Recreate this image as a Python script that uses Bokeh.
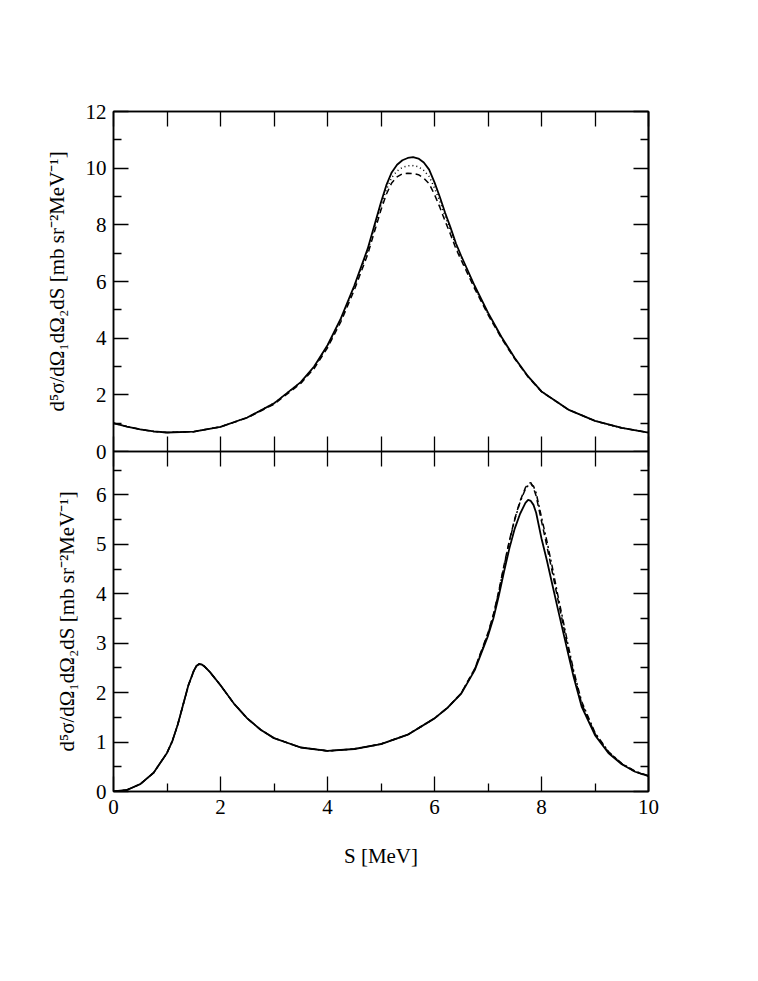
from bokeh.plotting import figure
from bokeh.models import FixedTicker, LinearAxis, Range1d
from bokeh.layouts import column
from bokeh.embed import file_html
from bokeh.resources import INLINE

# ---------------- data ----------------
x_top = [0, 0.25, 0.5, 0.75, 1, 1.5, 2, 2.5, 3, 3.5, 3.75, 4, 4.25, 4.5, 4.75,
         5.0, 5.1, 5.2, 5.3, 5.4, 5.5, 5.6, 5.7, 5.8, 5.9, 6.0, 6.1, 6.2, 6.3,
         6.4, 6.5, 6.75, 7.0, 7.25, 7.5, 7.75, 8.0, 8.5, 9.0, 9.5, 10]
top_solid = [1.00, 0.88, 0.78, 0.71, 0.67, 0.70, 0.87, 1.20, 1.70, 2.45, 3.00, 3.75, 4.70,
             5.85, 7.15, 8.80, 9.40, 9.85, 10.12, 10.28, 10.36, 10.39, 10.34, 10.20, 9.95,
             9.50, 8.98, 8.42, 7.90, 7.35, 6.90, 5.85, 4.90, 4.05, 3.30, 2.65, 2.12, 1.48,
             1.08, 0.83, 0.67]
top_dotted = [1.00, 0.88, 0.78, 0.71, 0.67, 0.70, 0.87, 1.20, 1.70, 2.44, 2.98, 3.72, 4.66,
              5.80, 7.07, 8.68, 9.24, 9.67, 9.90, 10.03, 10.08, 10.09, 10.05, 9.92, 9.71,
              9.30, 8.82, 8.29, 7.80, 7.27, 6.84, 5.81, 4.87, 4.03, 3.29, 2.64, 2.12, 1.48,
              1.08, 0.83, 0.67]
top_dashed = [1.00, 0.88, 0.78, 0.71, 0.67, 0.70, 0.87, 1.19, 1.67, 2.40, 2.93, 3.66, 4.58,
              5.70, 6.95, 8.53, 9.08, 9.48, 9.69, 9.80, 9.82, 9.81, 9.77, 9.65, 9.45,
              9.07, 8.62, 8.12, 7.66, 7.16, 6.75, 5.75, 4.83, 4.00, 3.27, 2.63, 2.11, 1.48,
              1.08, 0.83, 0.67]

x_bot = [0, 0.25, 0.5, 0.75, 1.0, 1.1, 1.2, 1.3, 1.4, 1.5, 1.55, 1.6, 1.65, 1.7, 1.8, 2.0,
         2.25, 2.5, 2.75, 3.0, 3.5, 4.0, 4.5, 5.0, 5.5, 6.0, 6.25, 6.5, 6.75, 7.0, 7.1, 7.2,
         7.3, 7.4, 7.5, 7.6, 7.7, 7.75, 7.8, 7.85, 7.9, 8.0, 8.1, 8.2, 8.3, 8.4, 8.5, 8.6,
         8.75, 9.0, 9.25, 9.5, 9.75, 10.0]
bot_solid = [0.00, 0.03, 0.15, 0.38, 0.78, 1.02, 1.35, 1.75, 2.15, 2.44, 2.54, 2.58, 2.57,
             2.53, 2.42, 2.15, 1.78, 1.48, 1.25, 1.08, 0.89, 0.82, 0.86, 0.96, 1.15, 1.48,
             1.70, 1.98, 2.45, 3.15, 3.50, 3.95, 4.45, 4.92, 5.32, 5.62, 5.84, 5.90, 5.88,
             5.80, 5.64, 5.12, 4.68, 4.20, 3.72, 3.25, 2.78, 2.32, 1.72, 1.14, 0.78, 0.55,
             0.40, 0.31]
bot_dashed = [0.00, 0.03, 0.15, 0.38, 0.78, 1.02, 1.35, 1.75, 2.15, 2.44, 2.54, 2.58, 2.57,
              2.53, 2.42, 2.15, 1.78, 1.48, 1.25, 1.08, 0.89, 0.82, 0.86, 0.96, 1.15, 1.48,
              1.70, 1.99, 2.48, 3.21, 3.58, 4.05, 4.58, 5.08, 5.52, 5.88, 6.15, 6.23, 6.25,
              6.14, 5.98, 5.47, 4.97, 4.45, 3.92, 3.40, 2.88, 2.40, 1.78, 1.17, 0.80, 0.56,
              0.40, 0.31]
bot_dashdot = [0.00, 0.03, 0.15, 0.38, 0.78, 1.02, 1.35, 1.75, 2.15, 2.44, 2.54, 2.58, 2.57,
               2.53, 2.42, 2.15, 1.78, 1.48, 1.25, 1.08, 0.89, 0.82, 0.86, 0.96, 1.15, 1.48,
               1.70, 1.99, 2.47, 3.19, 3.56, 4.03, 4.56, 5.06, 5.50, 5.86, 6.12, 6.19, 6.22,
               6.18, 6.04, 5.55, 5.07, 4.55, 4.00, 3.48, 2.95, 2.45, 1.82, 1.19, 0.81, 0.57,
               0.41, 0.32]

x_major_bottom = [0, 2, 4, 6, 8, 10]
x_minor_bottom = [1, 3, 5, 7, 9]
x_edge_ticks = [0, 1, 2, 3, 4, 5, 6, 7, 8, 9, 10]
top_y_major = [0, 2, 4, 6, 8, 10, 12]
top_y_minor = [1, 3, 5, 7, 9, 11]
bot_y_major = [0, 1, 2, 3, 4, 5, 6]
bot_y_minor = [0.5, 1.5, 2.5, 3.5, 4.5, 5.5, 6.5]

YLABEL = "d\u2075\u03c3/d\u03a9\u2081d\u03a9\u2082dS [mb sr\u207b\u00b2MeV\u207b\u00b9]"
FONT = "Liberation Serif"
TICK_FS = "21px"
LBL_FS = "21px"

FW, FH = 535, 340
LEFT = 113
RIGHT = 22
OVER = 12   # room below the top frame for its "0" tick label


def style_axis(ax):
    ax.major_tick_in = 15
    ax.major_tick_out = 0
    ax.minor_tick_in = 8
    ax.minor_tick_out = 0
    ax.major_tick_line_color = "black"
    ax.minor_tick_line_color = "black"
    ax.major_tick_line_width = 1.3
    ax.minor_tick_line_width = 1.3
    ax.axis_line_color = "black"
    ax.axis_line_width = 1.5
    ax.major_label_text_font = FONT
    ax.major_label_text_font_size = TICK_FS
    ax.major_label_text_color = "black"
    ax.axis_label_text_font = FONT
    ax.axis_label_text_font_style = "normal"
    ax.axis_label_text_font_size = LBL_FS
    ax.axis_label_text_color = "black"


def edge_axis(p, ticks, length, side):
    # tick marks only (minor ticks carry no labels)
    ax = LinearAxis(ticker=FixedTicker(ticks=[], minor_ticks=ticks))
    style_axis(ax)
    ax.minor_tick_in = length
    p.add_layout(ax, side)
    return ax


def make_fig(ymax, min_top, min_bottom):
    p = figure(frame_width=FW, frame_height=FH,
               x_range=Range1d(0, 10), y_range=Range1d(0, ymax),
               output_backend="svg", toolbar_location=None,
               x_axis_location=None, y_axis_location=None,
               min_border_left=LEFT, min_border_right=RIGHT,
               min_border_top=min_top, min_border_bottom=min_bottom)
    p.grid.visible = False
    p.outline_line_color = "black"
    p.outline_line_width = 1.5
    p.background_fill_color = "white"
    return p


# ---------------- top panel ----------------
p1 = make_fig(12, 111, OVER)
p1.border_fill_color = "white"
ly = LinearAxis(ticker=FixedTicker(ticks=top_y_major, minor_ticks=top_y_minor),
                axis_label=YLABEL)
style_axis(ly)
ly.major_label_standoff = 7
ly.axis_label_standoff = 14
p1.add_layout(ly, "left")
edge_axis(p1, top_y_major, 15, "right")
edge_axis(p1, top_y_minor, 8, "right")
edge_axis(p1, x_edge_ticks, 15, "above")
edge_axis(p1, x_edge_ticks, 15, "below")

p1.line(x_top, top_dashed, line_color="black", line_width=1.5, line_dash="6 4")
p1.line(x_top, top_dotted, line_color="black", line_width=1.5, line_dash="1 3")
p1.line(x_top, top_solid, line_color="black", line_width=1.8)

# ---------------- bottom panel ----------------
p2 = make_fig(6.88, 0, 20)
p2.border_fill_alpha = 0
p2.margin = (-OVER, 0, 0, 0)
ly2 = LinearAxis(ticker=FixedTicker(ticks=bot_y_major, minor_ticks=bot_y_minor),
                 axis_label=YLABEL)
style_axis(ly2)
ly2.major_label_standoff = 7
ly2.axis_label_standoff = 14
p2.add_layout(ly2, "left")
edge_axis(p2, bot_y_major, 15, "right")
edge_axis(p2, bot_y_minor, 8, "right")
edge_axis(p2, x_edge_ticks, 15, "above")
bx2 = LinearAxis(ticker=FixedTicker(ticks=x_major_bottom, minor_ticks=x_minor_bottom),
                 axis_label="S [MeV]")
style_axis(bx2)
bx2.major_label_standoff = 8
bx2.axis_label_standoff = 27
p2.add_layout(bx2, "below")

p2.line(x_bot, bot_dashdot, line_color="black", line_width=1.5, line_dash="6 3 2 3")
p2.line(x_bot, bot_dashed, line_color="black", line_width=1.5, line_dash="6 4")
p2.line(x_bot, bot_solid, line_color="black", line_width=1.8)

layout = column(p1, p2, spacing=0)
open("out.html", "w").write(file_html(layout, INLINE))
